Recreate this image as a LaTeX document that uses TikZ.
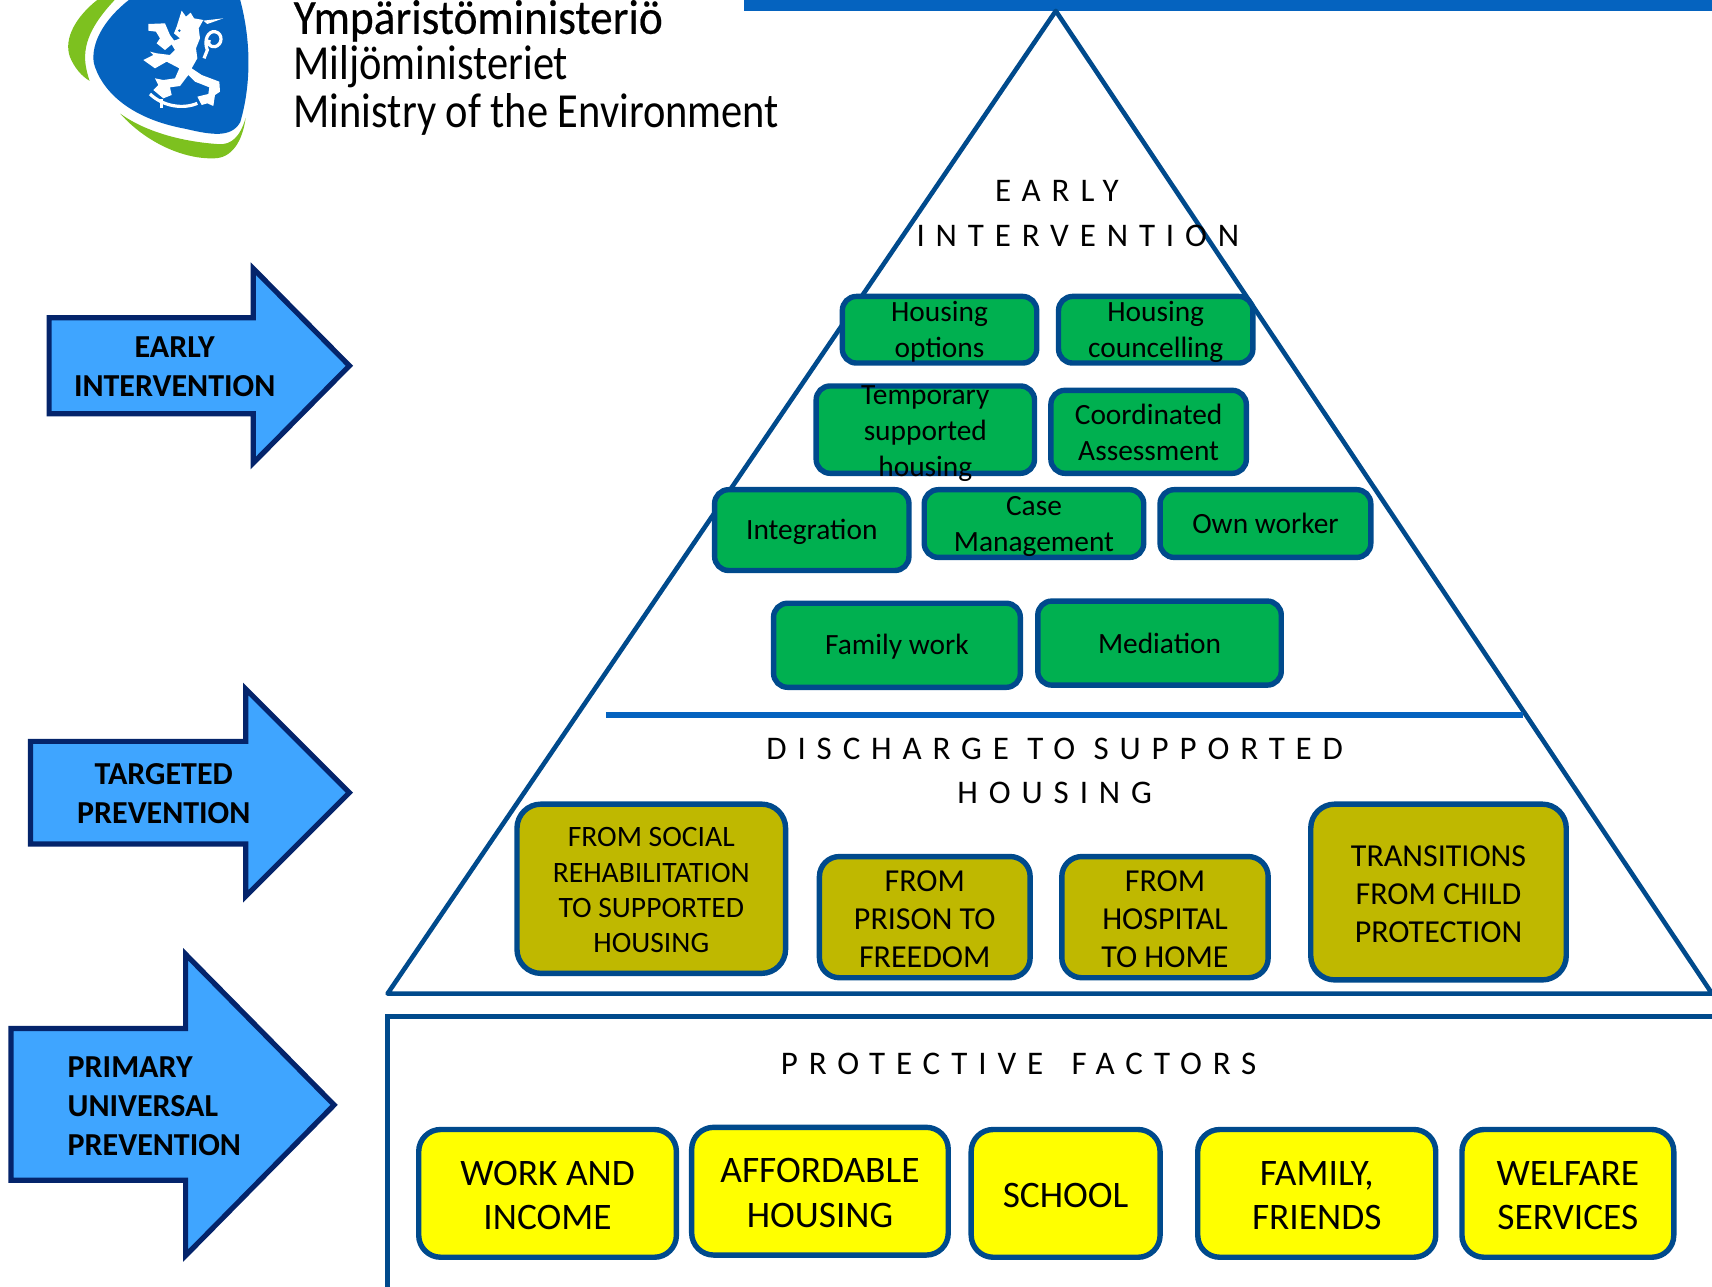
\documentclass[tikz,border=0pt]{standalone}
\usepackage{fontspec}
\setmainfont{Carlito}
\newfontfamily\spacedfont[LetterSpace=33]{Carlito}
\newfontfamily\logofont[FakeStretch=0.866]{Carlito}
\newfontfamily\logotopfont[FakeStretch=0.925,FakeBold=0.4]{Carlito}
\usetikzlibrary{positioning}
\def\u{0.546pt}
\newcommand{\lift}[1][0.76em]{\rule{0pt}{#1}}
\definecolor{edgeblue}{HTML}{004A8C}
\definecolor{barblue}{HTML}{0563BF}
\definecolor{arrowblue}{HTML}{3FA5FF}
\definecolor{arrownavy}{HTML}{04246B}
\definecolor{boxgreen}{HTML}{00B050}
\definecolor{boxolive}{HTML}{BFB800}
\definecolor{boxyellow}{RGB}{255,255,0}
\definecolor{logogreen}{HTML}{7DC11F}

\begin{document}
\begin{tikzpicture}[x=0.546pt, y=-0.546pt, inner sep=0pt, outer sep=0pt,
        wh/.style 2 args = {minimum width=#1*\u, minimum height=#2*\u},
        main/.style = {draw=edgeblue, line width=2.7pt, align=center},
        greenbox/.style = {main, fill=boxgreen, rounded corners=7pt, font=\fontsize{14.7}{18}\selectfont},
        olivebox/.style = {main, fill=boxolive, rounded corners=12pt, font=\fontsize{16}{19}\selectfont},
        yellowbox/.style = {main, fill=boxyellow, rounded corners=11pt, font=\fontsize{18.7}{22.4}\selectfont},
        title/.style = {align=center, font=\fontsize{16.5}{22.4}\spacedfont},
        pointer/.style = {draw=arrownavy, line width=2.6pt, fill=arrowblue},
        pointertext/.style = {align=center, font=\fontsize{16}{19.4}\selectfont\bfseries},
        logotext/.style = {anchor=base west, font=\fontsize{24.5}{24.5}\logofont}]
        \useasboundingbox (0,0) rectangle (1568,1178.7);
        \clip (0,0) rectangle (1568,1178.7);

        % logo
        \fill[barblue] (681,0) rectangle (1568,10);
        \fill[logogreen] (89,0) .. controls (70,15) and (58,35) .. (64,52) .. controls (68,62) and (75,70) .. (82,74)
            .. controls (76,55) and (72,35) .. (105,0) -- cycle;
        \fill[logogreen] (110,104) .. controls (135,132) and (170,146) .. (196,145) .. controls (212,145) and (222,130) .. (225,108)
            .. controls (220,125) and (212,133) .. (200,132) .. controls (170,130) and (135,122) .. (110,104) -- cycle;
        \fill[barblue] (118,0) .. controls (95,18) and (83,40) .. (86,58) .. controls (92,80) and (115,108) .. (170,118)
            .. controls (195,124) and (212,126) .. (220,112) .. controls (228,85) and (232,45) .. (220,0) -- cycle;
        \begin{scope}[shift={(109.9,0)}, x=0.1667pt, y=-0.1667pt]
            \fill[white] (170,80) -- (185,32) -- (198,50) -- (212,38) -- (222,55) -- (250,60) -- (236,85) -- (240,115) -- (228,145) -- (232,175)
                -- (215,205) -- (245,225) -- (298,245) -- (300,275) -- (285,285) -- (280,318) -- (262,310) -- (245,315) -- (232,290) -- (265,282)
                -- (268,262) -- (225,245) -- (205,225) -- (180,258) -- (150,262) -- (155,285) -- (130,295) -- (100,270) -- (115,255) -- (105,235)
                -- (130,240) -- (165,235) -- (178,205) -- (140,185) -- (105,205) -- (70,180) -- (100,165) -- (90,155) -- (110,160) -- (150,165)
                -- (165,150) -- (150,125) -- (168,120) -- (180,115) -- (162,100) -- cycle;
            \fill[white] (85,72) -- (135,70) -- (150,105) -- (165,125) -- (135,150) -- (110,130) -- (120,115) -- (108,95) -- (85,92) -- cycle;
            \fill[white] (250,62) -- (310,55) -- (262,72) -- cycle;
            \draw[white, line width=1.6pt] (90,282) .. controls (130,320) and (190,328) .. (232,310);
            \draw[white, line width=1.2pt] (125,298) -- (125,325);
            \draw[white, line width=1.6pt] (252,175) -- (262,150) .. controls (250,120) and (265,92) .. (285,95) .. controls (310,100) and (308,135) .. (285,140) .. controls (270,142) and (262,130) .. (268,120);
            \fill[barblue] (178,92) circle (4);
        \end{scope}

        \node[logotext, font=\fontsize{24.5}{24.5}\logotopfont] (logo_fi) at (269,31) {Ympäristöministeriö};
        \node[logotext] (logo_sv) at (269,73) {Miljöministeriet};
        \node[logotext] (logo_en) at (269,117) {Ministry of the Environment};

        % arrows
        \draw[pointer] (45,291) -- (232,291) -- (232,246) -- (320,335) -- (232,424) -- (232,379) -- (45,379) -- cycle;
        \draw[pointer] (28,679) -- (225,679) -- (225,631) -- (320,726) -- (225,821) -- (225,773) -- (28,773) -- cycle;
        \draw[pointer] (10,942) -- (170,942) -- (170,874) -- (306,1012) -- (170,1150) -- (170,1081) -- (10,1081) -- cycle;
        \node[pointertext] (a_1) at (160,336) {EARLY\\INTERVENTION};
        \node[pointertext] (a_2) at (150,727) {TARGETED\\PREVENTION};
        \node[pointertext, align=left, anchor=west] (a_3) at (62,1013) {PRIMARY\\UNIVERSAL\\PREVENTION};

        % pyramid and base
        \draw[edgeblue, line width=2.3pt, line join=round] (967,10) -- (1568,910) -- (355,910) -- cycle;
        \draw[edgeblue, line width=2.3pt] (1575,931) -- (355,931) -- (355,1185);
        \draw[barblue, line width=3.2pt] (555,655) -- (1395,655);

        \node[title] (t_1) at (968,195.5) {EARLY\\\hspace*{21pt}INTERVENTION};
        \node[title] (t_2) at (966,706) {DISCHARGE TO SUPPORTED\\HOUSING};
        \node[title] (t_3) at (933,974) {PROTECTIVE\ \hspace{5pt}FACTORS};

        % green boxes
        \node[greenbox, wh={178}{61}] (g_1) at (860.5,302) {\lift[0.82em]Housing\\options};
        \node[greenbox, wh={178}{61}, node distance=198*\u, right of=g_1] (g_2) {\lift[0.82em]Housing\\councelling};
        \node[greenbox, wh={200}{80}] (g_3) at (847.5,393.5) {};
        \node[align=center, font=\fontsize{14.7}{18}\selectfont] (g_3t) at (847.5,397) {Temporary\\supported\\housing};
        \node[greenbox, wh={179}{76}] (g_4) at (1052,395.5) {\lift Coordinated\\Assessment};
        \node[greenbox, wh={178}{74}] (g_5) at (743.5,485.5) {\lift[0.82em]Integration};
        \node[greenbox, wh={201}{62}] (g_6) at (947,479.5) {\lift[0.82em]Case\\Management};
        \node[greenbox, wh={193}{62}] (g_7) at (1159,479.5) {Own worker};
        \node[greenbox, wh={226}{77}] (g_8) at (821.5,591) {\lift[0.82em]Family work};
        \node[greenbox, wh={223}{77}] (g_9) at (1062,589) {Mediation};

        % discharge boxes
        \node[olivebox, wh={246}{155}, font=\fontsize{14.8}{17.7}\selectfont] (d_1) at (596.5,814) {\lift FROM SOCIAL\\REHABILITATION\\TO SUPPORTED\\HOUSING};
        \node[olivebox, wh={193}{111}, rounded corners=10pt] (d_2) at (847,840) {\lift FROM\\PRISON TO\\FREEDOM};
        \node[olivebox, wh={189}{111}, rounded corners=10pt, node distance=220*\u, right of=d_2] (d_3) {\lift FROM\\HOSPITAL\\TO HOME};
        \node[olivebox, wh={234}{161}] (d_4) at (1317.5,817) {\lift TRANSITIONS\\FROM CHILD\\PROTECTION};

        % protective factors
        \node[yellowbox, wh={236}{117}] (y_1) at (501.5,1093) {\lift WORK AND\\INCOME};
        \node[yellowbox, wh={235}{117}] (y_2) at (751,1091) {\lift AFFORDABLE\\HOUSING};
        \node[yellowbox, wh={173}{117}] (y_3) at (976,1093) {\lift SCHOOL};
        \node[yellowbox, wh={218}{117}, node distance=230*\u, right of=y_3] (y_4) {\lift FAMILY,\\FRIENDS};
        \node[yellowbox, wh={194}{117}, node distance=230*\u, right of=y_4] (y_5) {\lift WELFARE\\SERVICES};
\end{tikzpicture}
\end{document}
